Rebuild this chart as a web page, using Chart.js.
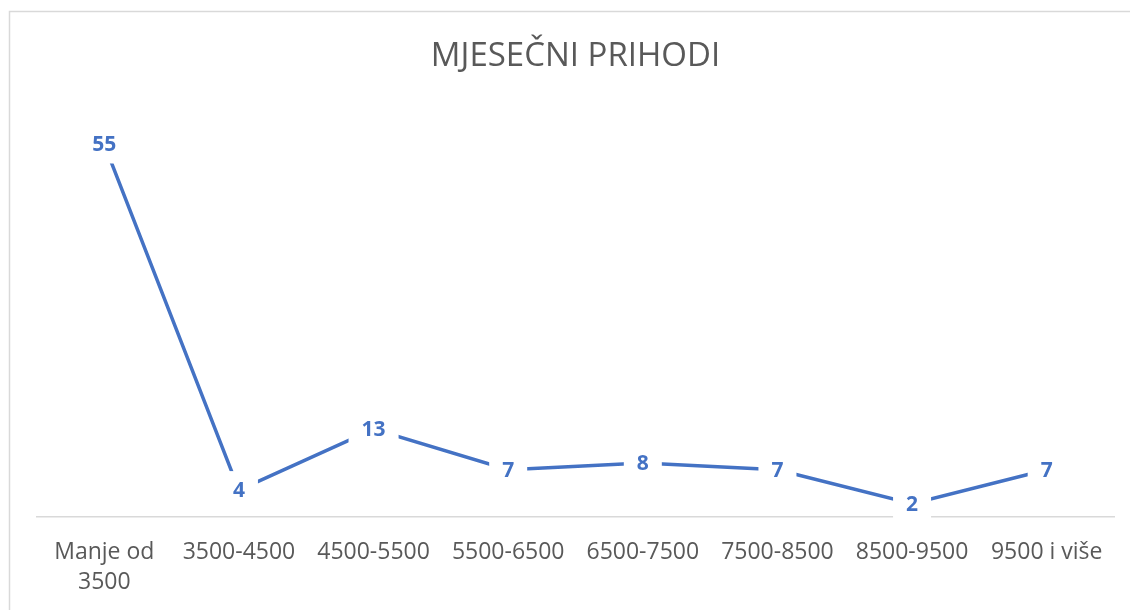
<!DOCTYPE html>
<html>
<head>
<meta charset="utf-8">
<script src="https://cdn.jsdelivr.net/npm/chart.js@4"></script>
<style>
  body { margin: 0; background: #fff; }
  #wrap { width: 1130px; height: 610px; position: relative; }
</style>
</head>
<body>
<div id="wrap"><canvas id="mycanvas" width="1130" height="610"></canvas></div>
<script>
// data
var categories = [['Manje od', '3500'], '3500-4500', '4500-5500', '5500-6500', '6500-7500', '7500-8500', '8500-9500', '9500 i više'];
var prihodi = [55, 4, 13, 7, 8, 7, 2, 7];
var chartTitle = 'MJESEČNI PRIHODI';

var blue = '#4472C4';
var grey = '#595959';

// frame around the whole chart
var framePlugin = {
  id: 'frame',
  beforeDraw: function(chart) {
    var c = chart.ctx;
    c.save();
    c.strokeStyle = '#d9d9d9';
    c.lineWidth = 1.5;
    c.strokeRect(9.5, 11.5, 1300, 800);
    c.restore();
  }
};

// data labels on a white box, like Excel
var labelPlugin = {
  id: 'valueLabels',
  afterDatasetsDraw: function(chart) {
    var c = chart.ctx;
    var meta = chart.getDatasetMeta(0);
    c.save();
    c.font = 'bold 21px "Open Sans", sans-serif';
    c.textAlign = 'center';
    c.textBaseline = 'middle';
    meta.data.forEach(function(pt, i) {
      var txt = String(prihodi[i]);
      var w = c.measureText(txt).width + 26;
      var h = 38;
      c.fillStyle = '#ffffff';
      c.fillRect(pt.x - w / 2, pt.y - h / 2, w, h);
      c.fillStyle = blue;
      c.fillText(txt, pt.x, pt.y + 1);
    });
    c.restore();
  }
};

var ctx = document.getElementById('mycanvas');
var lineGraph = new Chart(ctx, {
  type: 'line',
  data: {
    labels: categories,
    datasets: [{
      label: 'Prihodi',
      data: prihodi,
      borderColor: blue,
      borderWidth: 3.5,
      pointRadius: 0,
      tension: 0,
      fill: false
    }]
  },
  options: {
    responsive: false,
    animation: false,
    layout: { padding: { left: 37, right: 16, top: 0, bottom: -7 } },
    plugins: {
      legend: { display: false },
      tooltip: { enabled: false },
      title: {
        display: true,
        text: chartTitle,
        color: grey,
        font: { family: '"Open Sans", sans-serif', size: 33, weight: '400' },
        padding: { top: 37, bottom: 34 }
      }
    },
    scales: {
      x: {
        offset: true,
        grid: { display: false, drawTicks: false },
        border: { display: true, color: '#d9d9d9', width: 1.5 },
        ticks: {
          color: grey,
          font: { family: '"Open Sans", sans-serif', size: 23, lineHeight: 1.3 },
          padding: 20,
          maxRotation: 0,
          autoSkip: false
        }
      },
      y: {
        display: false,
        min: 0,
        max: 60
      }
    }
  },
  plugins: [framePlugin, labelPlugin]
});
</script>
</body>
</html>
